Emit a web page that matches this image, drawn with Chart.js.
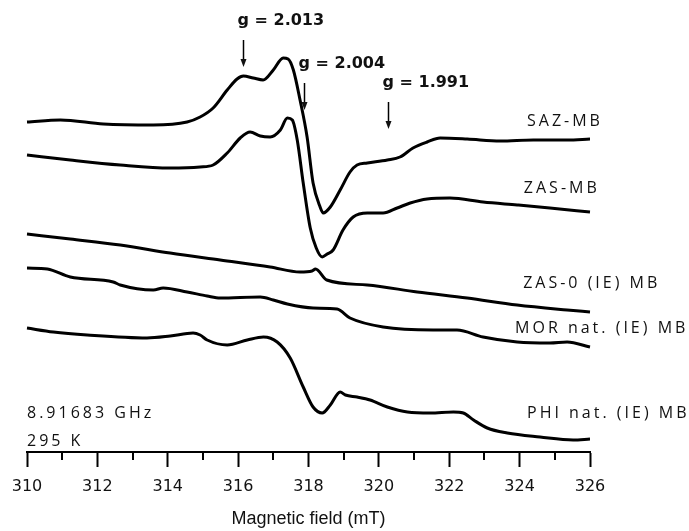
<!DOCTYPE html>
<html>
<head>
<meta charset="utf-8">
<script src="https://cdn.jsdelivr.net/npm/chart.js@4.4.1/dist/chart.umd.min.js"></script>
<style>
  body { margin: 0; background: #fff; }
  #wrap { width: 689px; height: 531px; }
</style>
</head>
<body>
<div id="wrap"><canvas id="epr" width="689" height="531"></canvas></div>
<script>
// EPR spectra: magnetic field (mT) and signal (arb. units, each trace offset vertically)
let fieldSAZ  = [310.0, 310.95, 312.17, 313.59, 314.55, 314.92, 315.29, 315.69, 315.97, 316.15, 316.43, 316.71, 317.0, 317.28, 317.42, 317.57, 317.76, 317.96, 318.13, 318.33, 318.42, 318.62, 318.9, 319.18, 319.38, 319.67, 320.24, 320.6, 320.97, 321.37, 321.74, 322.51, 323.45, 324.39, 325.35, 326.0];
let signalSAZ = [330, 332, 328, 327, 330, 335, 344, 362, 373, 376, 374, 372, 382, 394, 393, 382, 352, 315, 269, 245, 239, 245, 262, 280, 287, 289, 292, 295, 304, 310, 314, 313, 311, 312, 312, 313];

let fieldZAS  = [310.0, 311.23, 312.65, 314.07, 314.92, 315.29, 315.69, 316.06, 316.34, 316.63, 316.91, 317.2, 317.4, 317.54, 317.68, 317.85, 318.05, 318.22, 318.39, 318.53, 318.7, 318.98, 319.27, 319.67, 320.12, 320.52, 320.89, 321.37, 322.02, 322.96, 323.93, 324.86, 326.0];
let signalZAS = [297, 292, 287, 284, 285, 287, 299, 314, 320, 316, 315, 322, 334, 332, 312, 269, 224, 204, 195, 198, 202, 222, 235, 239, 239, 244, 249, 253, 254, 250, 247, 244, 240];

let fieldZAS0  = [310.0, 311.23, 312.65, 314.07, 315.49, 316.91, 317.76, 318.1, 318.2, 318.52, 319.67, 321.09, 322.51, 323.93, 325.35, 326.0];
let signalZAS0 = [218, 213, 207, 199, 192, 185, 180, 181, 183, 172, 167, 160, 154, 147, 142, 140];

let fieldMOR  = [310.0, 310.58, 311.23, 312.45, 312.65, 313.59, 313.87, 314.55, 315.12, 315.49, 316.63, 317.0, 317.4, 318.13, 318.81, 319.18, 320.12, 321.54, 322.22, 322.96, 323.93, 324.86, 325.35, 326.0];
let signalMOR = [184, 183, 175, 170, 167, 162, 164, 160, 156, 154, 155, 152, 148, 144, 143, 134, 125, 122, 122, 115, 110, 109, 110, 105];

let fieldPHI  = [310.0, 310.75, 311.71, 313.41, 314.07, 314.72, 314.92, 315.12, 315.69, 316.26, 316.72, 317.11, 317.48, 317.85, 318.13, 318.39, 318.62, 318.9, 319.05, 319.38, 319.75, 320.24, 320.81, 321.46, 322.12, 322.4, 322.69, 323.08, 323.65, 324.58, 325.52, 326.0];
let signalPHI = [124, 120, 117, 114, 116, 119, 117, 112, 107, 112, 115, 110, 94, 65, 45, 39, 47, 60, 57, 55, 52, 45, 40, 39, 40, 39, 32, 24, 19, 15, 12, 13];

let sampleNames = ['SAZ-MB', 'ZAS-MB', 'ZAS-0 (IE) MB', 'MOR nat. (IE) MB', 'PHI nat. (IE) MB'];
let xTicks = [310, 312, 314, 316, 318, 320, 322, 324, 326];
let gLabels = ['g = 2.013', 'g = 2.004', 'g = 1.991'];
let gFields = [316.15, 317.87, 320.26];

// where the annotations sit, in field / signal units
let nameAnchors = [[324.21, 331], [324.12, 264], [324.1, 169], [323.87, 124], [324.21, 39]];
let arrowTops = [412, 369, 350];
let conditions = ['8.91683 GHz', '295 K'];
let conditionAnchors = [[310.0, 39], [310.0, 11]];

function toPoints(xs, ys) {
    return xs.map((x, i) => ({ x: x, y: ys[i] }));
}

let traces = [
    toPoints(fieldSAZ, signalSAZ),
    toPoints(fieldZAS, signalZAS),
    toPoints(fieldZAS0, signalZAS0),
    toPoints(fieldMOR, signalMOR),
    toPoints(fieldPHI, signalPHI)
];

const textFont = '16px "Open Sans"';

// labels, g-value arrows and minor ticks
const annotate = {
    id: 'annotate',
    afterDraw(chart) {
        const ctx = chart.ctx;
        const xs = chart.scales.x, ys = chart.scales.y;
        ctx.save();

        // odd-value minor ticks
        ctx.strokeStyle = '#000';
        ctx.lineWidth = 2;
        for (let v = 311; v < 326; v += 2) {
            let px = Math.round(xs.getPixelForValue(v));
            ctx.beginPath();
            ctx.moveTo(px, xs.top);
            ctx.lineTo(px, xs.top + 8);
            ctx.stroke();
        }

        // sample names and conditions
        ctx.fillStyle = '#111';
        ctx.font = textFont;
        ctx.textAlign = 'left';
        ctx.textBaseline = 'middle';
        ctx.letterSpacing = '3px';
        sampleNames.forEach((name, i) => {
            ctx.fillText(name, xs.getPixelForValue(nameAnchors[i][0]), ys.getPixelForValue(nameAnchors[i][1]));
        });
        conditions.forEach((c, i) => {
            ctx.fillText(c, xs.getPixelForValue(conditionAnchors[i][0]), ys.getPixelForValue(conditionAnchors[i][1]));
        });
        ctx.letterSpacing = '0px';

        // g-value arrows
        ctx.font = 'bold 16px "DejaVu Sans"';
        gLabels.forEach((label, i) => {
            let ax = Math.round(xs.getPixelForValue(gFields[i])) + 0.5;
            let top = ys.getPixelForValue(arrowTops[i]);
            let tip = top + 27;
            ctx.strokeStyle = '#000';
            ctx.lineWidth = 1.5;
            ctx.beginPath();
            ctx.moveTo(ax, top);
            ctx.lineTo(ax, tip - 6);
            ctx.stroke();
            ctx.beginPath();
            ctx.moveTo(ax - 3, tip - 8);
            ctx.lineTo(ax + 3, tip - 8);
            ctx.lineTo(ax, tip);
            ctx.closePath();
            ctx.fill();
            ctx.fillText(label, ax - 6, top - 19);
        });

        ctx.restore();
    }
};

let ctx = document.getElementById('epr').getContext('2d');
let eprChart = new Chart(ctx, {
    type: 'line',
    data: {
        datasets: traces.map((pts, i) => ({
            label: sampleNames[i],
            data: pts,
            borderColor: '#000',
            borderWidth: 3,
            pointRadius: 0,
            fill: false,
            cubicInterpolationMode: 'monotone',
            clip: false
        }))
    },
    options: {
        responsive: false,
        animation: false,
        layout: { padding: { left: 27, right: 99, top: 0, bottom: 0 } },
        plugins: {
            legend: { display: false },
            tooltip: { enabled: false }
        },
        scales: {
            x: {
                type: 'linear',
                min: 310,
                max: 326,
                afterBuildTicks: (scale) => { scale.ticks = xTicks.map(v => ({ value: v })); },
                afterFit: (scale) => { scale.height = 79; },
                ticks: {
                    color: '#111',
                    font: { family: 'DejaVu Sans', size: 16 },
                    padding: 10,
                    maxRotation: 0
                },
                grid: {
                    display: true,
                    drawOnChartArea: false,
                    drawTicks: true,
                    tickLength: 15,
                    tickWidth: 2,
                    tickColor: '#000'
                },
                border: { display: true, color: '#000', width: 2 },
                title: {
                    display: true,
                    text: 'Magnetic field (mT)',
                    color: '#111',
                    font: { family: 'Liberation Sans', size: 18 },
                    padding: { top: 0, bottom: 1 }
                }
            },
            y: {
                display: false,
                min: 0,
                max: 452
            }
        }
    },
    plugins: [annotate]
});
</script>
</body>
</html>
